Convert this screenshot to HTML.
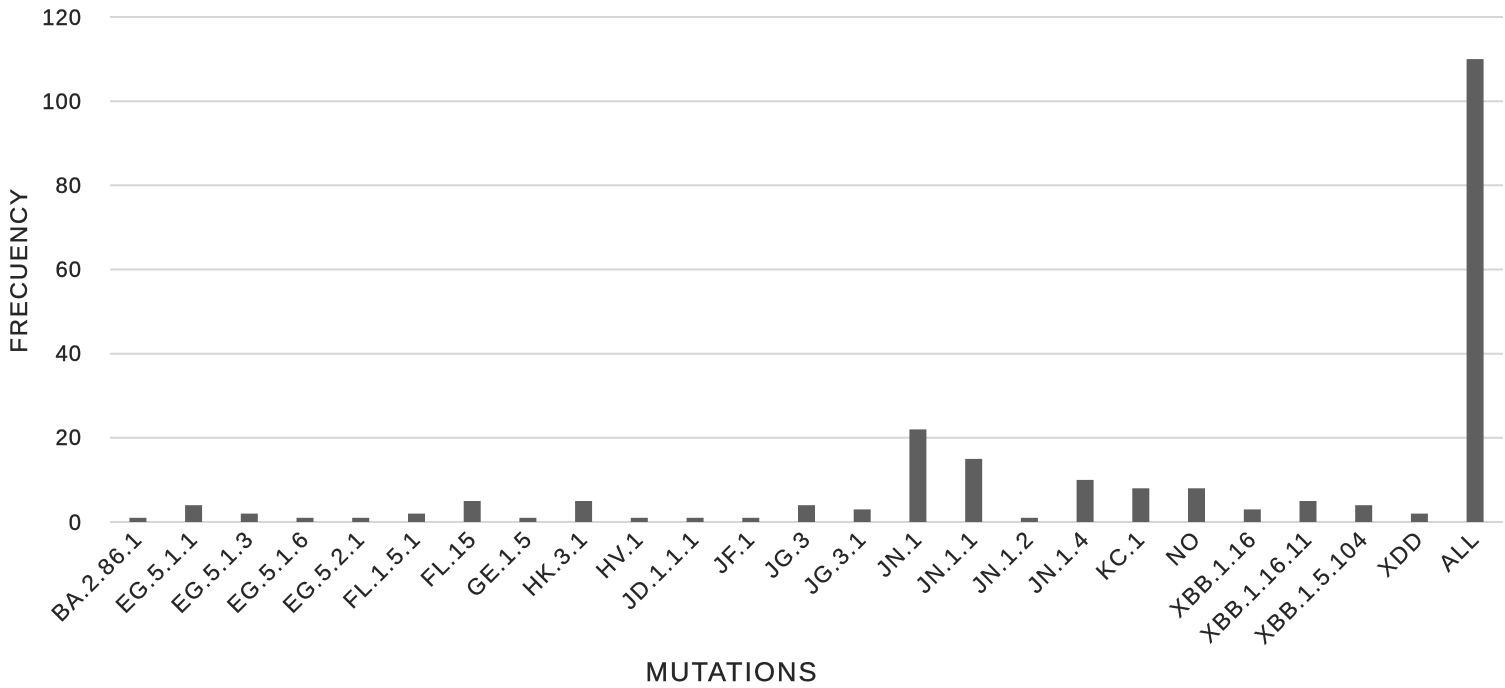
<!DOCTYPE html>
<html><head><meta charset="utf-8"><style>
html,body{margin:0;padding:0;background:#fff;}
svg{display:block;font-family:"Liberation Sans",sans-serif;}
</style></head><body>
<svg width="1505" height="688" viewBox="0 0 1505 688" xmlns="http://www.w3.org/2000/svg">
<g stroke="#d6d6d6" stroke-width="2">
<line x1="110" x2="1503" y1="17" y2="17"/>
<line x1="110" x2="1503" y1="101.2" y2="101.2"/>
<line x1="110" x2="1503" y1="185.3" y2="185.3"/>
<line x1="110" x2="1503" y1="269.5" y2="269.5"/>
<line x1="110" x2="1503" y1="353.7" y2="353.7"/>
<line x1="110" x2="1503" y1="437.8" y2="437.8"/>
<line x1="110" x2="1503" y1="522" y2="522"/>
</g>
<g font-size="22" fill="#262626" text-anchor="end" letter-spacing="1" stroke="#262626" stroke-width="0.4">
<text x="82" y="25">120</text>
<text x="82" y="109">100</text>
<text x="82" y="193">80</text>
<text x="82" y="277">60</text>
<text x="82" y="361">40</text>
<text x="82" y="445">20</text>
<text x="82" y="530">0</text>
</g>
<text transform="translate(27,270) rotate(-90)" font-size="24" fill="#262626" text-anchor="middle" letter-spacing="1.8" stroke="#262626" stroke-width="0.4">FRECUENCY</text>
<text x="732" y="681" font-size="27" fill="#262626" text-anchor="middle" letter-spacing="2" stroke="#262626" stroke-width="0.4">MUTATIONS</text>
<g fill="#5f5f5f">
<rect x="129.4" y="517.8" width="17" height="4.2"/>
<rect x="185.1" y="505.2" width="17" height="16.8"/>
<rect x="240.8" y="513.6" width="17" height="8.4"/>
<rect x="296.5" y="517.8" width="17" height="4.2"/>
<rect x="352.2" y="517.8" width="17" height="4.2"/>
<rect x="408.0" y="513.6" width="17" height="8.4"/>
<rect x="463.7" y="501.0" width="17" height="21.0"/>
<rect x="519.4" y="517.8" width="17" height="4.2"/>
<rect x="575.1" y="501.0" width="17" height="21.0"/>
<rect x="630.8" y="517.8" width="17" height="4.2"/>
<rect x="686.6" y="517.8" width="17" height="4.2"/>
<rect x="742.3" y="517.8" width="17" height="4.2"/>
<rect x="798.0" y="505.2" width="17" height="16.8"/>
<rect x="853.7" y="509.4" width="17" height="12.6"/>
<rect x="909.4" y="429.4" width="17" height="92.6"/>
<rect x="965.2" y="458.9" width="17" height="63.1"/>
<rect x="1020.9" y="517.8" width="17" height="4.2"/>
<rect x="1076.6" y="479.9" width="17" height="42.1"/>
<rect x="1132.3" y="488.3" width="17" height="33.7"/>
<rect x="1188.0" y="488.3" width="17" height="33.7"/>
<rect x="1243.8" y="509.4" width="17" height="12.6"/>
<rect x="1299.5" y="501.0" width="17" height="21.0"/>
<rect x="1355.2" y="505.2" width="17" height="16.8"/>
<rect x="1410.9" y="513.6" width="17" height="8.4"/>
<rect x="1466.6" y="59.1" width="17" height="462.9"/>
</g>
<g font-size="23" fill="#262626" text-anchor="end" letter-spacing="1.8" stroke="#262626" stroke-width="0.3">
<text transform="translate(143.9,540) rotate(-45)">BA.2.86.1</text>
<text transform="translate(199.6,540) rotate(-45)">EG.5.1.1</text>
<text transform="translate(255.3,540) rotate(-45)">EG.5.1.3</text>
<text transform="translate(311.0,540) rotate(-45)">EG.5.1.6</text>
<text transform="translate(366.7,540) rotate(-45)">EG.5.2.1</text>
<text transform="translate(422.5,540) rotate(-45)">FL.1.5.1</text>
<text transform="translate(478.2,540) rotate(-45)">FL.15</text>
<text transform="translate(533.9,540) rotate(-45)">GE.1.5</text>
<text transform="translate(589.6,540) rotate(-45)">HK.3.1</text>
<text transform="translate(645.3,540) rotate(-45)">HV.1</text>
<text transform="translate(701.1,540) rotate(-45)">JD.1.1.1</text>
<text transform="translate(756.8,540) rotate(-45)">JF.1</text>
<text transform="translate(812.5,540) rotate(-45)">JG.3</text>
<text transform="translate(868.2,540) rotate(-45)">JG.3.1</text>
<text transform="translate(923.9,540) rotate(-45)">JN.1</text>
<text transform="translate(979.7,540) rotate(-45)">JN.1.1</text>
<text transform="translate(1035.4,540) rotate(-45)">JN.1.2</text>
<text transform="translate(1091.1,540) rotate(-45)">JN.1.4</text>
<text transform="translate(1146.8,540) rotate(-45)">KC.1</text>
<text transform="translate(1202.5,540) rotate(-45)">NO</text>
<text transform="translate(1258.3,540) rotate(-45)">XBB.1.16</text>
<text transform="translate(1314.0,540) rotate(-45)">XBB.1.16.11</text>
<text transform="translate(1369.7,540) rotate(-45)">XBB.1.5.104</text>
<text transform="translate(1425.4,540) rotate(-45)">XDD</text>
<text transform="translate(1481.1,540) rotate(-45)">ALL</text>
</g>
</svg>
</body></html>
